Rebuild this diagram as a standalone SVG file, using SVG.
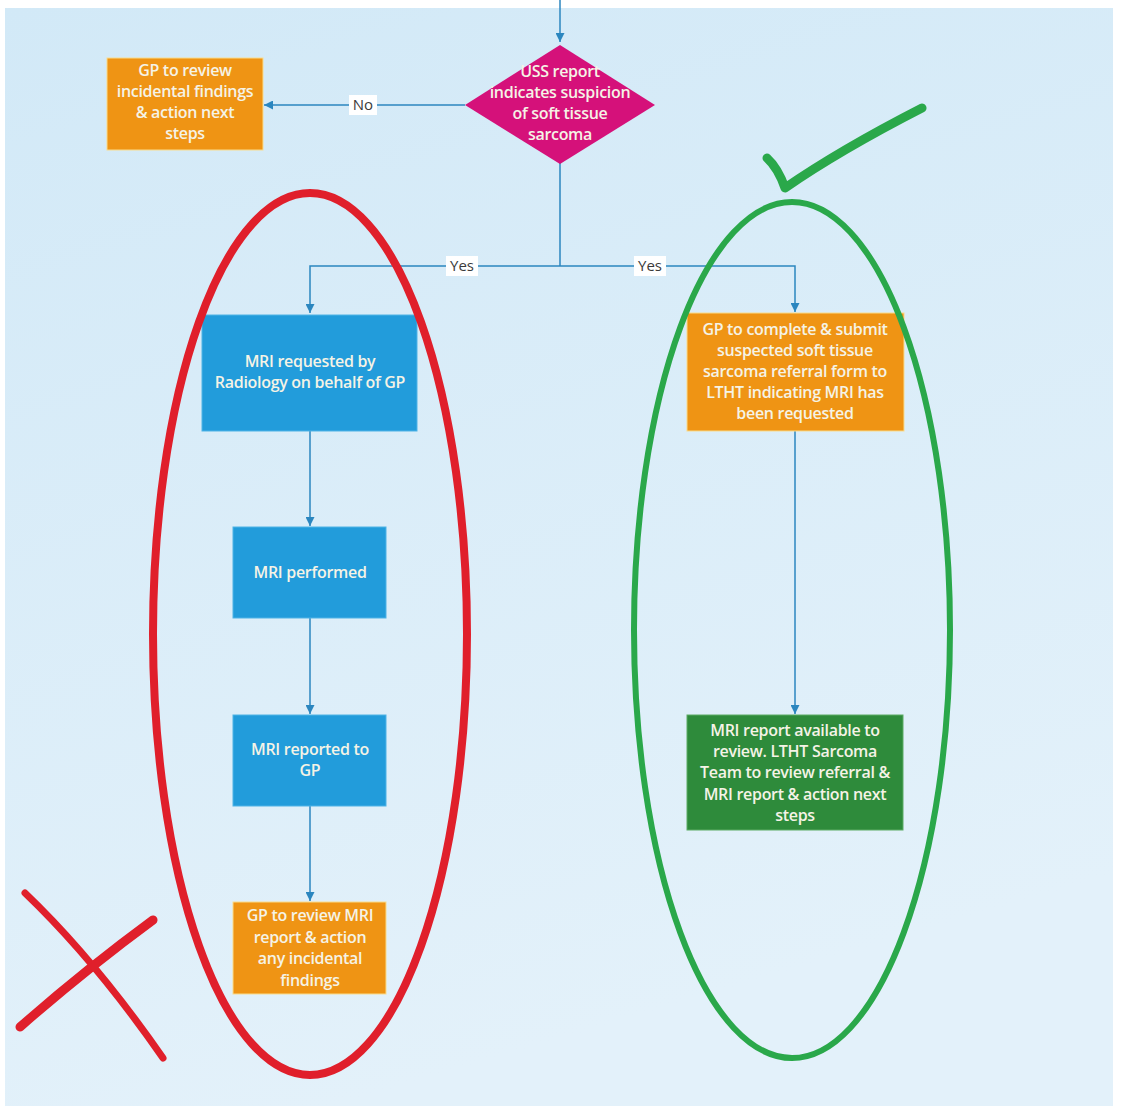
<svg xmlns="http://www.w3.org/2000/svg" width="1125" height="1115" viewBox="0 0 1125 1115">
<defs>
<linearGradient id="bg" x1="0" y1="0" x2="0.3" y2="1">
<stop offset="0" stop-color="#d2e9f7"/>
<stop offset="1" stop-color="#e3f1fa"/>
</linearGradient>
<marker id="arr" viewBox="0 0 10 10" refX="10" refY="5" markerWidth="9" markerHeight="9" markerUnits="userSpaceOnUse" orient="auto">
<path d="M0,0 L10,5 L0,10 z" fill="#2b86bf"/>
</marker>
<style>
.t{font-family:"Open Sans","Liberation Sans",sans-serif;font-size:16px;font-weight:600;fill:#f5f3e6;text-anchor:middle;letter-spacing:-0.3px}
.lbl{font-family:"Open Sans","Liberation Sans",sans-serif;font-size:15px;fill:#3a3a3a;text-anchor:middle}
.c{fill:none;stroke:#2b86bf;stroke-width:1.5}
.or{fill:#ef9414;stroke:#f9dc8c;stroke-width:1}
.bl{fill:#229cdb;stroke:#4fb3e6;stroke-width:1}
.gr{fill:#2e8b3b;stroke:#5cab64;stroke-width:1}
</style>
</defs>
<rect width="1125" height="1115" fill="#ffffff"/>
<rect x="5" y="8" width="1108" height="1098" fill="url(#bg)"/>

<g id="connectors">
<path class="c" d="M560,0 V42" marker-end="url(#arr)"/>
<path class="c" d="M465,105 H264" marker-end="url(#arr)"/>
<path class="c" d="M560,163 V266"/>
<path class="c" d="M560,266 H310 V313" marker-end="url(#arr)"/>
<path class="c" d="M560,266 H795 V312" marker-end="url(#arr)"/>
<path class="c" d="M310,431 V526" marker-end="url(#arr)"/>
<path class="c" d="M310,618 V714" marker-end="url(#arr)"/>
<path class="c" d="M310,806 V901" marker-end="url(#arr)"/>
<path class="c" d="M795,431 V714" marker-end="url(#arr)"/>
<rect x="349" y="95" width="28" height="20" fill="#ffffff"/>
<text class="lbl" x="363" y="110">No</text>
<rect x="446" y="256" width="32" height="20" fill="#ffffff"/>
<text class="lbl" x="462" y="271">Yes</text>
<rect x="634" y="256" width="32" height="20" fill="#ffffff"/>
<text class="lbl" x="650" y="271">Yes</text>
</g>

<g id="decision">
<polygon points="560,45 655,105 560,164 465,105" fill="#d5117a"/>
<text class="t" x="560" y="77">USS report</text>
<text class="t" x="560" y="98">indicates suspicion</text>
<text class="t" x="560" y="119">of soft tissue</text>
<text class="t" x="560" y="140">sarcoma</text>
</g>

<g id="gp-review-incidental">
<rect class="or" x="107" y="58" width="156" height="92"/>
<text class="t" x="185" y="76">GP to review</text>
<text class="t" x="185" y="97">incidental findings</text>
<text class="t" x="185" y="118">&amp; action next</text>
<text class="t" x="185" y="139">steps</text>
</g>

<g id="mri-requested">
<rect class="bl" x="202" y="315" width="215" height="116"/>
<text class="t" x="310" y="367">MRI requested by</text>
<text class="t" x="310" y="388">Radiology on behalf of GP</text>
</g>

<g id="mri-performed">
<rect class="bl" x="233" y="527" width="153" height="91"/>
<text class="t" x="310" y="578">MRI performed</text>
</g>

<g id="mri-reported">
<rect class="bl" x="233" y="715" width="153" height="91"/>
<text class="t" x="310" y="755">MRI reported to</text>
<text class="t" x="310" y="776">GP</text>
</g>

<g id="gp-review-mri">
<rect class="or" x="233" y="902" width="153" height="92"/>
<text class="t" x="310" y="921">GP to review MRI</text>
<text class="t" x="310" y="943">report &amp; action</text>
<text class="t" x="310" y="964">any incidental</text>
<text class="t" x="310" y="986">findings</text>
</g>

<g id="gp-complete-referral">
<rect class="or" x="687" y="313" width="217" height="118"/>
<text class="t" x="795" y="335">GP to complete &amp; submit</text>
<text class="t" x="795" y="356">suspected soft tissue</text>
<text class="t" x="795" y="377">sarcoma referral form to</text>
<text class="t" x="795" y="398">LTHT indicating MRI has</text>
<text class="t" x="795" y="419">been requested</text>
</g>

<g id="mri-report-available">
<rect class="gr" x="687" y="715" width="216" height="115"/>
<text class="t" x="795" y="736">MRI report available to</text>
<text class="t" x="795" y="757">review.  LTHT Sarcoma</text>
<text class="t" x="795" y="778">Team to review referral &amp;</text>
<text class="t" x="795" y="800">MRI report &amp; action next</text>
<text class="t" x="795" y="821">steps</text>
</g>

<g id="annotations">
<ellipse cx="310" cy="634" rx="157" ry="441" fill="none" stroke="#e01f2b" stroke-width="8"/>
<ellipse cx="792" cy="630" rx="158" ry="428" fill="none" stroke="#2aa84a" stroke-width="6"/>
<path d="M767,158 Q778,168 785,188 Q840,150 922,108" fill="none" stroke="#2aa84a" stroke-width="9" stroke-linecap="round" stroke-linejoin="round"/>
<path d="M25,893 Q95,960 163,1058" fill="none" stroke="#e01f2b" stroke-width="7" stroke-linecap="round"/>
<path d="M153,920 Q85,970 20,1027" fill="none" stroke="#e01f2b" stroke-width="9" stroke-linecap="round"/>
</g>
</svg>
